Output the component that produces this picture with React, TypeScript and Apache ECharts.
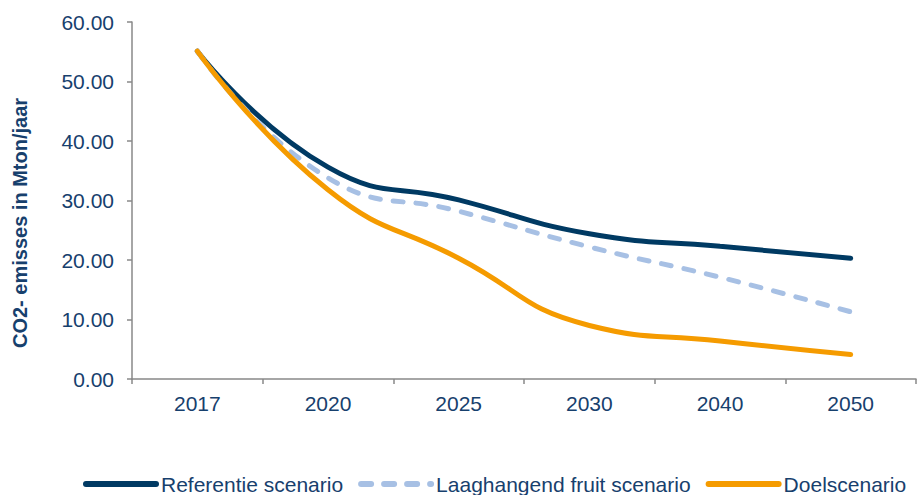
import React, { useEffect, useRef } from "react";
import * as echarts from "echarts";

// Emission pathways, Mton CO2 per year
const years = ["2017", "2020", "2025", "2030", "2040", "2050"];
const referentie = [55.1, 35.6, 30.1, 24.4, 22.3, 20.3];
const laaghangend = [55.1, 33.8, 28.2, 22.2, 17.1, 11.3];
const doel = [55.1, 31.8, 20.3, 9.0, 6.4, 4.1];
const seriesNames = ["Referentie scenario", "Laaghangend fruit scenario", "Doelscenario"];

const TEXT = "#17406d";
const FONT = "'Liberation Sans', Arial, sans-serif";

export default function App() {
  const ref = useRef<HTMLDivElement>(null);

  useEffect(() => {
    if (!ref.current) return;
    const chart = echarts.init(ref.current, undefined, { renderer: "svg" });
    chart.setOption({
      animation: false,
      backgroundColor: "#ffffff",
      textStyle: { fontFamily: FONT },
      grid: { left: 132, right: 1, top: 22, bottom: 116 },
      legend: {
        left: 78,
        top: 468,
        itemWidth: 70,
        itemHeight: 12,
        itemGap: 15,
        itemStyle: { opacity: 0 },
        lineStyle: { width: 6, cap: "round" },
        textStyle: { color: TEXT, fontSize: 21, fontFamily: FONT, lineHeight: 22 },
        data: seriesNames,
      },
      graphic: [
        {
          type: "text",
          x: 20,
          y: 223,
          rotation: Math.PI / 2,
          style: {
            text: "CO2- emisses in Mton/jaar",
            font: `bold 20px ${FONT}`,
            fill: TEXT,
            textAlign: "center",
            textVerticalAlign: "middle",
          },
        },
      ],
      xAxis: {
        type: "category",
        data: years,
        boundaryGap: true,
        axisLine: { lineStyle: { color: "#888888", width: 1.5 } },
        axisTick: { show: true, length: 5, lineStyle: { color: "#888888", width: 1.5 } },
        axisLabel: { color: TEXT, fontSize: 21, margin: 14, fontFamily: FONT },
        splitLine: { show: false },
      },
      yAxis: {
        type: "value",
        min: 0,
        max: 60,
        interval: 10,
        axisLine: { show: true, lineStyle: { color: "#888888", width: 1.5 } },
        axisTick: { show: true, length: 5, lineStyle: { color: "#888888", width: 1.5 } },
        axisLabel: {
          color: TEXT,
          fontSize: 21,
          margin: 18,
          fontFamily: FONT,
          formatter: (v: number) => v.toFixed(2),
        },
        splitLine: { show: false },
      },
      series: [
        {
          name: seriesNames[0],
          type: "line",
          data: referentie,
          smooth: true,
          symbol: "none",
          lineStyle: { color: "#003a63", width: 5, cap: "round" },
          itemStyle: { color: "#003a63" },
        },
        {
          name: seriesNames[1],
          type: "line",
          data: laaghangend,
          smooth: true,
          symbol: "none",
          lineStyle: { color: "#a7c0e4", width: 5, type: [10, 13], cap: "round" },
          itemStyle: { color: "#a7c0e4" },
        },
        {
          name: seriesNames[2],
          type: "line",
          data: doel,
          smooth: true,
          symbol: "none",
          lineStyle: { color: "#f59b00", width: 5, cap: "round" },
          itemStyle: { color: "#f59b00" },
        },
      ],
    });
    return () => chart.dispose();
  }, []);

  return (
    <div
      ref={ref}
      style={{ position: "fixed", left: 0, top: 0, width: 917, height: 495 }}
    />
  );
}
